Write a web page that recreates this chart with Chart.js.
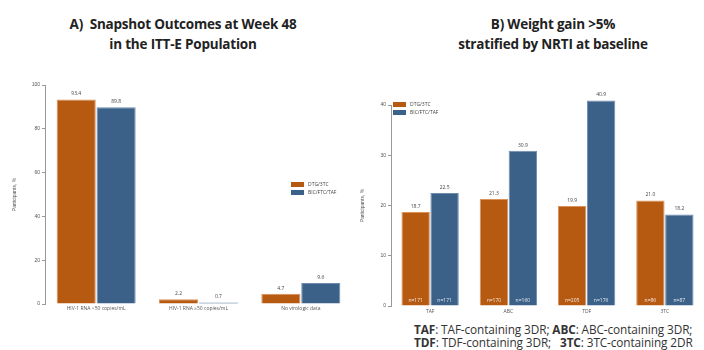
<!DOCTYPE html>
<html>
<head>
<meta charset="utf-8">
<script src="https://cdn.jsdelivr.net/npm/chart.js@4"></script>
<style>
    body { margin: 0; width: 704px; height: 350px; background: #fff; position: relative; overflow: hidden; font-family: "Open Sans", "Liberation Sans", sans-serif; }
    .title { position: absolute; text-align: center; font-weight: bold; font-size: 13.5px; color: #222; line-height: 20px; letter-spacing: -0.2px; }
    .box { position: absolute; }
    .legend { position: absolute; font-size: 5px; color: #444; line-height: 8px; }
    .legend span.sw { display: inline-block; width: 13px; height: 5px; margin-right: 4px; vertical-align: middle; }
    .note { position: absolute; left: 414px; top: 323px; font-size: 11.8px; color: #333; line-height: 12.5px; letter-spacing: -0.1px; }
</style>
</head>
<body>
<div class="title" style="left:33px; top:14px; width:300px;">A)&nbsp; Snapshot Outcomes at Week 48<br>in the ITT-E Population</div>
<div class="title" style="left:403px; top:14px; width:300px;">B) Weight gain &gt;5%<br>stratified by NRTI at baseline</div>

<div class="box" style="left:0; top:55px; width:352px; height:259px;"><canvas id="snapshotChart"></canvas></div>
<div class="box" style="left:352px; top:85px; width:352px; height:231px;"><canvas id="weightChart"></canvas></div>

<div class="legend" style="left:291px; top:180px;">
    <div><span class="sw" style="background:#B65A12"></span>DTG/3TC</div>
    <div><span class="sw" style="background:#3C6189"></span>BIC/FTC/TAF</div>
</div>
<div class="legend" style="left:393px; top:100px;">
    <div><span class="sw" style="background:#B65A12"></span>DTG/3TC</div>
    <div><span class="sw" style="background:#3C6189"></span>BIC/FTC/TAF</div>
</div>

<div class="note"><b>TAF</b>: TAF-containing 3DR; <b>ABC</b>: ABC-containing 3DR;<br><b>TDF</b>: TDF-containing 3DR;&nbsp;&nbsp; <b>3TC</b>: 3TC-containing 2DR</div>

<script>
const ORANGE = '#B65A12';
const BLUE = '#3C6189';

// A) snapshot outcomes
const snapshotCategories = ['HIV-1 RNA <50 copies/mL', 'HIV-1 RNA \u226550 copies/mL', 'No virologic data'];
const snapshotDtg = [93.4, 2.2, 4.7];
const snapshotBic = [89.8, 0.7, 9.6];

// B) weight gain by NRTI
const nrtiCategories = ['TAF', 'ABC', 'TDF', '3TC'];
const weightDtg = [18.7, 21.3, 19.9, 21.0];
const weightBic = [22.5, 30.9, 40.9, 18.2];
const countsDtg = ['n=171', 'n=170', 'n=205', 'n=86'];
const countsBic = ['n=171', 'n=160', 'n=176', 'n=87'];

// value above each bar, optional n= inside the bar, category names under the axis
const barLabels = {
    id: 'barLabels',
    afterDatasetsDraw(chart) {
        const ctx = chart.ctx;
        const x = chart.scales.x;
        const base = chart.scales.y.getPixelForValue(0);
        ctx.save();
        ctx.textAlign = 'center';
        ctx.font = '5px "Open Sans", sans-serif';
        chart.data.datasets.forEach((ds, i) => {
            chart.getDatasetMeta(i).data.forEach((bar, j) => {
                ctx.textBaseline = 'bottom';
                ctx.fillStyle = '#444';
                ctx.fillText(ds.data[j].toFixed(1), bar.x, bar.y - 3);
                if (ds.counts) {
                    ctx.fillStyle = 'rgba(255,255,255,0.85)';
                    ctx.fillText(ds.counts[j], bar.x, base - 3);
                }
            });
        });
        ctx.textBaseline = 'top';
        ctx.fillStyle = '#555';
        chart.data.labels.forEach((lab, j) => {
            ctx.fillText(lab, x.getPixelForValue(j), base + chart.options.labelGap);
        });
        ctx.restore();
    }
};

function axisOptions(max, step, yWidth, xHeight, titlePad) {
    return {
        x: {
            grid: { display: false },
            border: { display: false },
            ticks: { display: false },
            afterFit: s => { s.height = xHeight; }
        },
        y: {
            min: 0,
            max: max,
            grid: { drawOnChartArea: false, drawTicks: true, tickLength: 3, color: '#999' },
            border: { display: true, color: '#999' },
            ticks: { stepSize: step, color: '#555', font: { size: 5 }, padding: 2 },
            title: { display: true, text: 'Participants, %', color: '#555', font: { size: 5 }, padding: { top: titlePad, bottom: 0 } },
            afterFit: s => { s.width = yWidth; }
        }
    };
}

new Chart(document.getElementById('snapshotChart'), {
    type: 'bar',
    data: {
        labels: snapshotCategories,
        datasets: [
            { label: 'DTG/3TC', data: snapshotDtg, backgroundColor: ORANGE, borderColor: '#D9925A', borderWidth: 1, clip: false },
            { label: 'BIC/FTC/TAF', data: snapshotBic, backgroundColor: BLUE, borderColor: '#6D8EAF', borderWidth: 1, clip: false }
        ]
    },
    options: {
        responsive: true,
        maintainAspectRatio: false,
        animation: false,
        labelGap: 2,
        datasets: { bar: { barPercentage: 0.98, categoryPercentage: 0.78 } },
        layout: { padding: { top: 30, right: 0, bottom: 0, left: 0 } },
        plugins: { legend: { display: false }, tooltip: { enabled: false } },
        scales: axisOptions(100, 20, 45, 10, 12)
    },
    plugins: [barLabels]
});

new Chart(document.getElementById('weightChart'), {
    type: 'bar',
    data: {
        labels: nrtiCategories,
        datasets: [
            { label: 'DTG/3TC', data: weightDtg, counts: countsDtg, backgroundColor: ORANGE, borderColor: '#D9925A', borderWidth: 1, clip: false },
            { label: 'BIC/FTC/TAF', data: weightBic, counts: countsBic, backgroundColor: BLUE, borderColor: '#6D8EAF', borderWidth: 1, clip: false }
        ]
    },
    options: {
        responsive: true,
        maintainAspectRatio: false,
        animation: false,
        labelGap: 3,
        datasets: { bar: { barPercentage: 0.98, categoryPercentage: 0.74 } },
        layout: { padding: { top: 20, right: 0, bottom: 0, left: 0 } },
        plugins: { legend: { display: false }, tooltip: { enabled: false } },
        scales: axisOptions(40, 10, 39, 10, 8)
    },
    plugins: [barLabels]
});
</script>
</body>
</html>
